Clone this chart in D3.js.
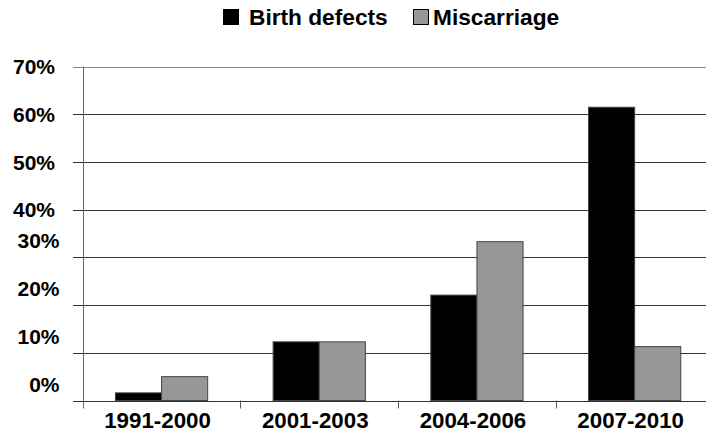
<!DOCTYPE html>
<html>
<head>
<meta charset="utf-8">
<script src="https://cdn.jsdelivr.net/npm/d3@7"></script>
<style>
html,body{margin:0;padding:0;background:#fff;}
svg{display:block;}
text{font-family:"Liberation Sans",Arial,sans-serif;font-weight:bold;fill:#000;}
</style>
</head>
<body>
<svg id="chart" width="706" height="433"></svg>
<script>
const categories = ["1991-2000", "2001-2003", "2004-2006", "2007-2010"];
const seriesNames = ["Birth defects", "Miscarriage"];
const birthDefects = [1.6, 12.3, 22.1, 61.5];
const miscarriage = [5.0, 12.3, 33.3, 11.3];
const yTicks = [0, 10, 20, 30, 40, 50, 60, 70];
const yTickLabels = ["0%", "10%", "20%", "30%", "40%", "50%", "60%", "70%"];
const colors = ["#000000", "#979797"];

(function () {
const svg = d3.select("#chart");
const plotLeft = 82.7, bandW = 157.7, plotBottom = 400.5, plotTop = 66.7;

const x = d3.scaleBand().domain(categories).range([plotLeft, plotLeft + bandW * categories.length]).paddingInner(0).paddingOuter(0);
const xi = d3.scaleBand().domain(seriesNames).range([0, x.bandwidth()]).paddingOuter(0.71).paddingInner(0);
const y = d3.scaleLinear().domain([0, 70]).range([plotBottom, plotTop]);

// gridlines
svg.append("g").selectAll("line").data(yTicks).join("line")
  .attr("x1", 73).attr("x2", 706)
  .attr("y1", d => Math.round(y(d)) + 0.5).attr("y2", d => Math.round(y(d)) + 0.5)
  .attr("stroke", d => d === 70 ? "#888" : "#333").attr("stroke-width", 1);

// y labels
svg.append("g").selectAll("text").data(yTicks).join("text")
  .attr("x", d => d >= 40 ? 55 : 59.5)
  .attr("y", d => d >= 40 ? y(d) + 7.5 : y(d) - 9)
  .attr("text-anchor", "end")
  .attr("font-size", 21)
  .text((d, i) => yTickLabels[i]);

// bars
const data = categories.map((c, i) => ({cat: c, vals: [birthDefects[i], miscarriage[i]]}));
const groups = svg.append("g").selectAll("g").data(data).join("g")
  .attr("transform", d => `translate(${x(d.cat)},0)`);
groups.selectAll("rect").data(d => d.vals.map((v, j) => ({name: seriesNames[j], v, j}))).join("rect")
  .attr("x", d => xi(d.name))
  .attr("width", xi.bandwidth())
  .attr("y", d => y(d.v))
  .attr("height", d => plotBottom - y(d.v))
  .attr("fill", d => colors[d.j])
  .attr("stroke", "#444").attr("stroke-width", 1);

// y axis line
svg.append("line").attr("x1", Math.round(plotLeft) + 0.5).attr("x2", Math.round(plotLeft) + 0.5)
  .attr("y1", plotTop).attr("y2", plotBottom + 8).attr("stroke", "#666").attr("stroke-width", 1);
// x axis line
svg.append("line").attr("x1", plotLeft).attr("x2", 706)
  .attr("y1", Math.round(plotBottom) + 0.5).attr("y2", Math.round(plotBottom) + 0.5)
  .attr("stroke", "#333");
// category ticks
svg.append("g").selectAll("line").data(categories.slice(1)).join("line")
  .attr("x1", d => Math.round(x(d)) + 0.5).attr("x2", d => Math.round(x(d)) + 0.5)
  .attr("y1", plotBottom).attr("y2", plotBottom + 8).attr("stroke", "#555");

// x labels
svg.append("g").selectAll("text").data(categories).join("text")
  .attr("x", d => x(d) + x.bandwidth() / 2 - 4)
  .attr("y", 428)
  .attr("text-anchor", "middle")
  .attr("font-size", 22.3)
  .text(d => d);

// legend
const legendX = [223, 413];
const lg = svg.append("g").selectAll("g").data(seriesNames).join("g")
  .attr("transform", (d, i) => `translate(${legendX[i]},0)`);
lg.append("rect").attr("x", 0.5).attr("y", 9.5).attr("width", 15).attr("height", 15)
  .attr("fill", (d, i) => colors[i]).attr("stroke", "#000");
lg.append("text").attr("x", (d, i) => i === 0 ? 26 : 20).attr("y", 25)
  .attr("font-size", 22.7).text(d => d);
})();
</script>
</body>
</html>
